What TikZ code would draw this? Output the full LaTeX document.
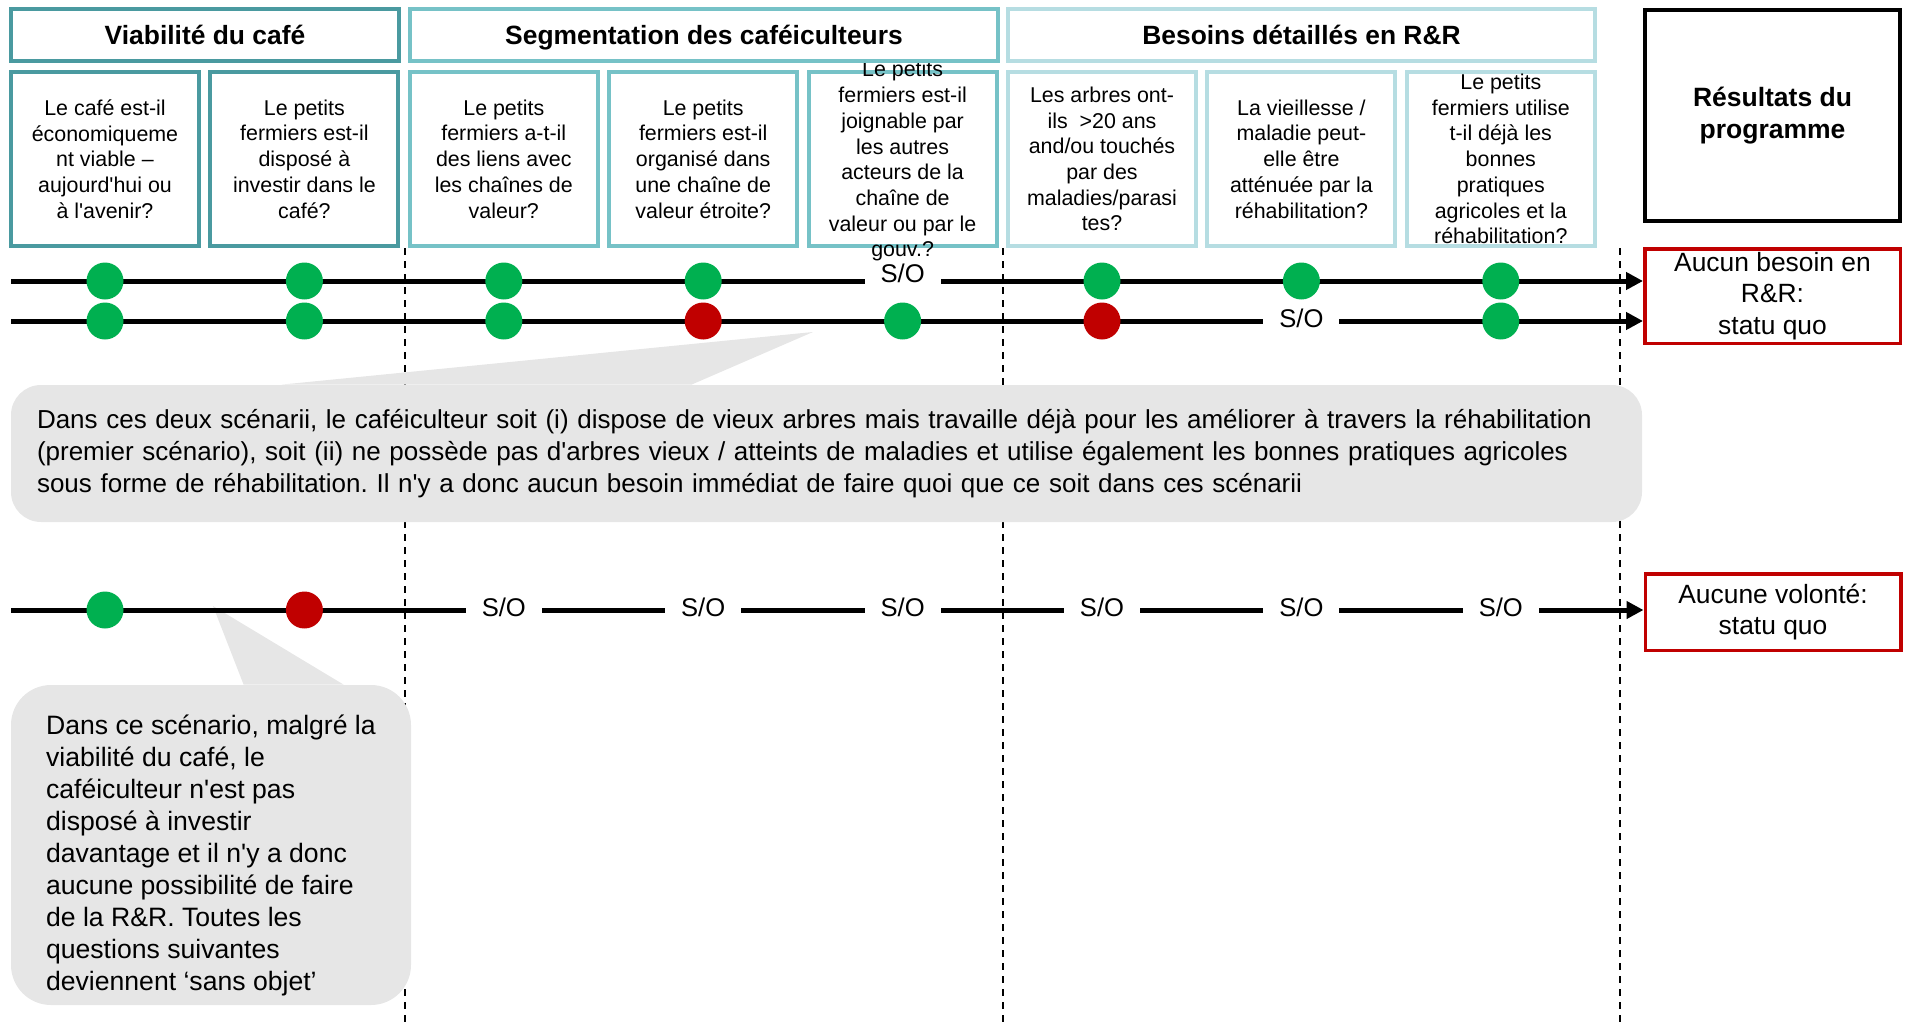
\documentclass[tikz,border=0pt]{standalone}
\usepackage{fontspec}
\setmainfont{Liberation Sans}[Ligatures=TeXOff]
\usetikzlibrary{arrows.meta,positioning}
\frenchspacing

\definecolor{viab}{RGB}{74,154,160}
\definecolor{seg}{RGB}{118,194,199}
\definecolor{bes}{RGB}{182,221,226}
\definecolor{okgreen}{RGB}{0,176,80}
\definecolor{kored}{RGB}{192,0,0}
\definecolor{notegray}{RGB}{230,230,230}

\begin{document}
\begin{tikzpicture}[x=0.5pt, y=-0.5pt,
		hdr/.style={draw, line width=2pt, fill=white, minimum height=26pt, text height=10.5pt, text depth=1.5pt, font=\fontsize{13.2}{15}\selectfont\bfseries},
		qtext/.style={align=center, font=\fontsize{10.7}{12.85}\selectfont},
		qbox/.style={qtext, draw, line width=2pt, fill=white, minimum width=94pt, minimum height=87pt, inner sep=0pt},
		outbox/.style={draw=kored, line width=1.75pt, minimum width=127.75pt, inner ysep=0pt, align=center, font=\fontsize{13.2}{15.8}\selectfont},
		sep/.style={line width=0.75pt, dash pattern=on 3.5pt off 3pt},
		note/.style={fill=notegray, align=left},
		row/.style={line width=2.5pt, -{Triangle[length=8.5pt, width=8.5pt]}},
		ok/.style={circle, fill=okgreen, minimum size=18.5pt, inner sep=0pt},
		ko/.style={ok, fill=kored},
		na/.style={fill=white, inner xsep=8pt, inner ysep=1pt, yshift=1.5pt, font=\fontsize{12.8}{14}\selectfont},
	]
		\useasboundingbox (0,0) rectangle (1911,1028);

		% questions
		\node (q1) [qbox, draw=viab] at (105,159) {Le café est-il\\économiqueme\\nt viable –\\aujourd'hui ou\\à l'avenir?};
		\node (q2) [qbox, draw=viab, right=3.7pt of q1] {Le petits\\fermiers est-il\\disposé à\\investir dans le\\café?};
		\node (q3) [qbox, draw=seg, right=3.7pt of q2] {Le petits\\fermiers a-t-il\\des liens avec\\les chaînes de\\valeur?};
		\node (q4) [qbox, draw=seg, right=3.7pt of q3] {Le petits\\fermiers est-il\\organisé dans\\une chaîne de\\valeur étroite?};
		\node (q5) [qbox, draw=seg, right=3.7pt of q4, label={[qtext, yshift=-1.2pt]center:Le petits\\fermiers est-il\\joignable par\\les autres\\acteurs de la\\chaîne de\\valeur ou par le\\gouv.?}] {};
		\node (q6) [qbox, draw=bes, right=3.7pt of q5] {Les arbres ont-\\ils~ >20 ans\\and/ou touchés\\par des\\maladies/parasi\\tes?};
		\node (q7) [qbox, draw=bes, right=3.7pt of q6] {La vieillesse /\\maladie peut-\\elle être\\atténuée par la\\réhabilitation?};
		\node (q8) [qbox, draw=bes, right=3.7pt of q7] {Le petits\\fermiers utilise\\t-il déjà les\\bonnes\\pratiques\\agricoles et la\\réhabilitation?};

		\node (hviab) [hdr, draw=viab, minimum width=194pt] at (205,35) {Viabilité du café};
		\node (hseg) [hdr, draw=seg, minimum width=294pt] at (704,35) {Segmentation des caféiculteurs};
		\node (hbes) [hdr, draw=bes, minimum width=293.5pt] at (1301.5,35) {Besoins détaillés en R\&R};

		% outcomes
		\node (res) [draw, line width=2pt, minimum width=127.5pt, minimum height=105.5pt, align=center, font=\fontsize{13.25}{15.8}\selectfont\bfseries] at (1772.5,115.5) {Résultats du\\programme};
		\node (res1) [outbox, minimum height=47.25pt, below=12pt of res] {Aucun besoin en\\R\&R:\\statu quo};
		\node (res2) [outbox, minimum height=38.25pt] at (1773,612) {Aucune volonté:\\statu quo};

		\draw[sep] (405,248) -- (405,1028);
		\draw[sep] (1003,248) -- (1003,1028);
		\draw[sep] (1620,248) -- (1620,1028);

		% call-outs
		\coordinate (tip1) at (813,332);
		\coordinate (tip2) at (213,606);
		\node (note1) [note, rounded corners=15pt, minimum width=815.5pt, minimum height=68.5pt, text width=789.5pt, inner xsep=13pt, font=\fontsize{13}{15.85}\selectfont] at (826.5,453.5) {Dans ces deux scénarii, le caféiculteur soit (i) dispose de vieux arbres mais travaille déjà pour les améliorer à travers la réhabilitation\\(premier scénario), soit (ii) ne possède pas d'arbres vieux / atteints de maladies et utilise également les bonnes pratiques agricoles\\sous forme de réhabilitation. Il n'y a donc aucun besoin immédiat de faire quoi que ce soit dans ces scénarii};
		\fill[notegray] ([xshift=135.5pt]note1.north west) -- (tip1) -- ([xshift=340.5pt]note1.north west) -- cycle;
		\node (note2) [note, rounded corners=20pt, minimum width=200pt, minimum height=160pt] at (211,845) {};
		\fill[notegray] ([xshift=116.5pt]note2.north west) -- (tip2) -- ([xshift=166.5pt]note2.north west) -- cycle;
		\node (note2txt) [note, anchor=north west, font=\fontsize{13.3}{16}\selectfont] at ([xshift=14.2pt, yshift=-11.8pt]note2.north west) {Dans ce scénario, malgré la\\viabilité du café, le\\caféiculteur n'est pas\\disposé à investir\\davantage et il n'y a donc\\aucune possibilité de faire\\de la R\&R. Toutes les\\questions suivantes\\deviennent ‘sans objet’};

		% scenario rows
		\coordinate (r1) at (11,281);
		\coordinate (r2) at (11,321);
		\coordinate (r3) at (11,610);
		\draw[row] (r1) -- (r1 -| res1.west);
		\draw[row] (r2) -- (r2 -| res1.west);
		\draw[row] (r3) -- (r3 -| res2.west);

		\node (a1) [ok] at (q1 |- r1) {}; \node (a2) [ok] at (q2 |- r1) {}; \node (a3) [ok] at (q3 |- r1) {}; \node (a4) [ok] at (q4 |- r1) {};
		\node (a5) [na, yshift=2.5pt] at (q5 |- r1) {S/O}; \node (a6) [ok] at (q6 |- r1) {}; \node (a7) [ok] at (q7 |- r1) {}; \node (a8) [ok] at (q8 |- r1) {};

		\node (b1) [ok] at (q1 |- r2) {}; \node (b2) [ok] at (q2 |- r2) {}; \node (b3) [ok] at (q3 |- r2) {}; \node (b4) [ko] at (q4 |- r2) {};
		\node (b5) [ok] at (q5 |- r2) {}; \node (b6) [ko] at (q6 |- r2) {}; \node (b7) [na] at (q7 |- r2) {S/O}; \node (b8) [ok] at (q8 |- r2) {};

		\node (c1) [ok] at (q1 |- r3) {}; \node (c2) [ko] at (q2 |- r3) {}; \node (c3) [na] at (q3 |- r3) {S/O}; \node (c4) [na] at (q4 |- r3) {S/O};
		\node (c5) [na] at (q5 |- r3) {S/O}; \node (c6) [na] at (q6 |- r3) {S/O}; \node (c7) [na] at (q7 |- r3) {S/O}; \node (c8) [na] at (q8 |- r3) {S/O};
	\end{tikzpicture}
\end{document}
